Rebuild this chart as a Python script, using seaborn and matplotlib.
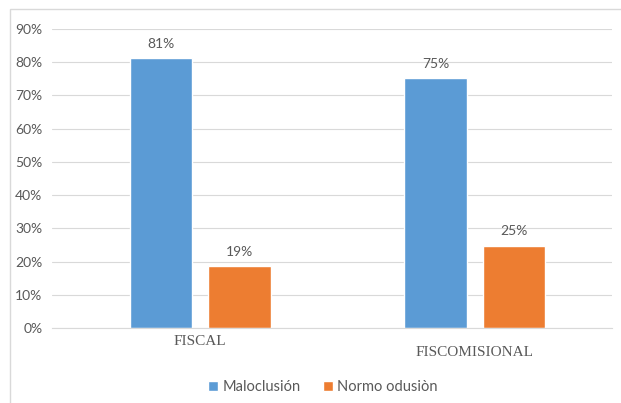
import pandas as pd
import matplotlib.pyplot as plt
import seaborn as sns
from matplotlib.patches import Rectangle
from matplotlib.transforms import ScaledTranslation

# datos
tipos = ["FISCAL", "FISCAL", "FISCOMISIONAL", "FISCOMISIONAL"]
grupos = ["Maloclusión", "Normo odusiòn", "Maloclusión", "Normo odusiòn"]
valores = [81.3, 18.7, 75.2, 24.8]
etiquetas = ["81%", "19%", "75%", "25%"]
y_ticks = [0, 10, 20, 30, 40, 50, 60, 70, 80, 90]

df = pd.DataFrame({"tipo": tipos, "grupo": grupos, "valor": valores})

sns.set_style("white")
plt.rcParams['font.family'] = ['Lato', 'DejaVu Sans']

fig = plt.figure(figsize=(6.21, 4.03), dpi=100)
ax = fig.add_axes([0.084, 0.186, 0.901, 0.742])

palette = ["#5B9BD5", "#ED7D31"]
sns.barplot(data=df, x="tipo", y="valor", hue="grupo", palette=palette,
            width=0.57, gap=0.2, ax=ax, saturation=1)

# etiquetas sobre las barras (contenedor j = grupo j, barra k = categoria k)
for j, cont in enumerate(ax.containers):
    labs = [etiquetas[2 * k + j] for k in range(len(cont))]
    ax.bar_label(cont, labels=labs, padding=6, color="#595959", fontsize=10)

ax.set_xlim(-0.538, 1.498)
ax.set_ylim(0, 90)
ax.set_yticks(y_ticks)
ax.set_yticklabels([f"{t}%" for t in y_ticks], color="#595959", fontsize=10)
ax.grid(axis="y", color="#d9d9d9", linewidth=0.8)
ax.set_axisbelow(True)
for s in ["top", "right", "left"]:
    ax.spines[s].set_visible(False)
ax.spines["bottom"].set_color("#d9d9d9")
ax.tick_params(length=0, pad=7)
ax.tick_params(axis="x", pad=5)
ax.set_xlabel("")
ax.set_ylabel("")
for lab in ax.get_xticklabels():
    lab.set_fontfamily("Liberation Serif")
    lab.set_fontsize(11)
    lab.set_color("#595959")
# la segunda etiqueta algo mas baja como en el original
lab2 = ax.get_xticklabels()[1]
lab2.set_transform(lab2.get_transform() + ScaledTranslation(0, -8 / 72, fig.dpi_scale_trans))

ax.legend(loc="upper center", bbox_to_anchor=(0.484, -0.13), ncol=2, frameon=False,
          handlelength=0.7, handleheight=0.7, handletextpad=0.3, columnspacing=1.5,
          fontsize=10.5, labelcolor="#595959")

fig.add_artist(Rectangle((0.016, -0.02), 1.1, 0.998, transform=fig.transFigure,
                         fill=False, ec="#d9d9d9", lw=1))

fig.savefig("out.png", dpi=100)
